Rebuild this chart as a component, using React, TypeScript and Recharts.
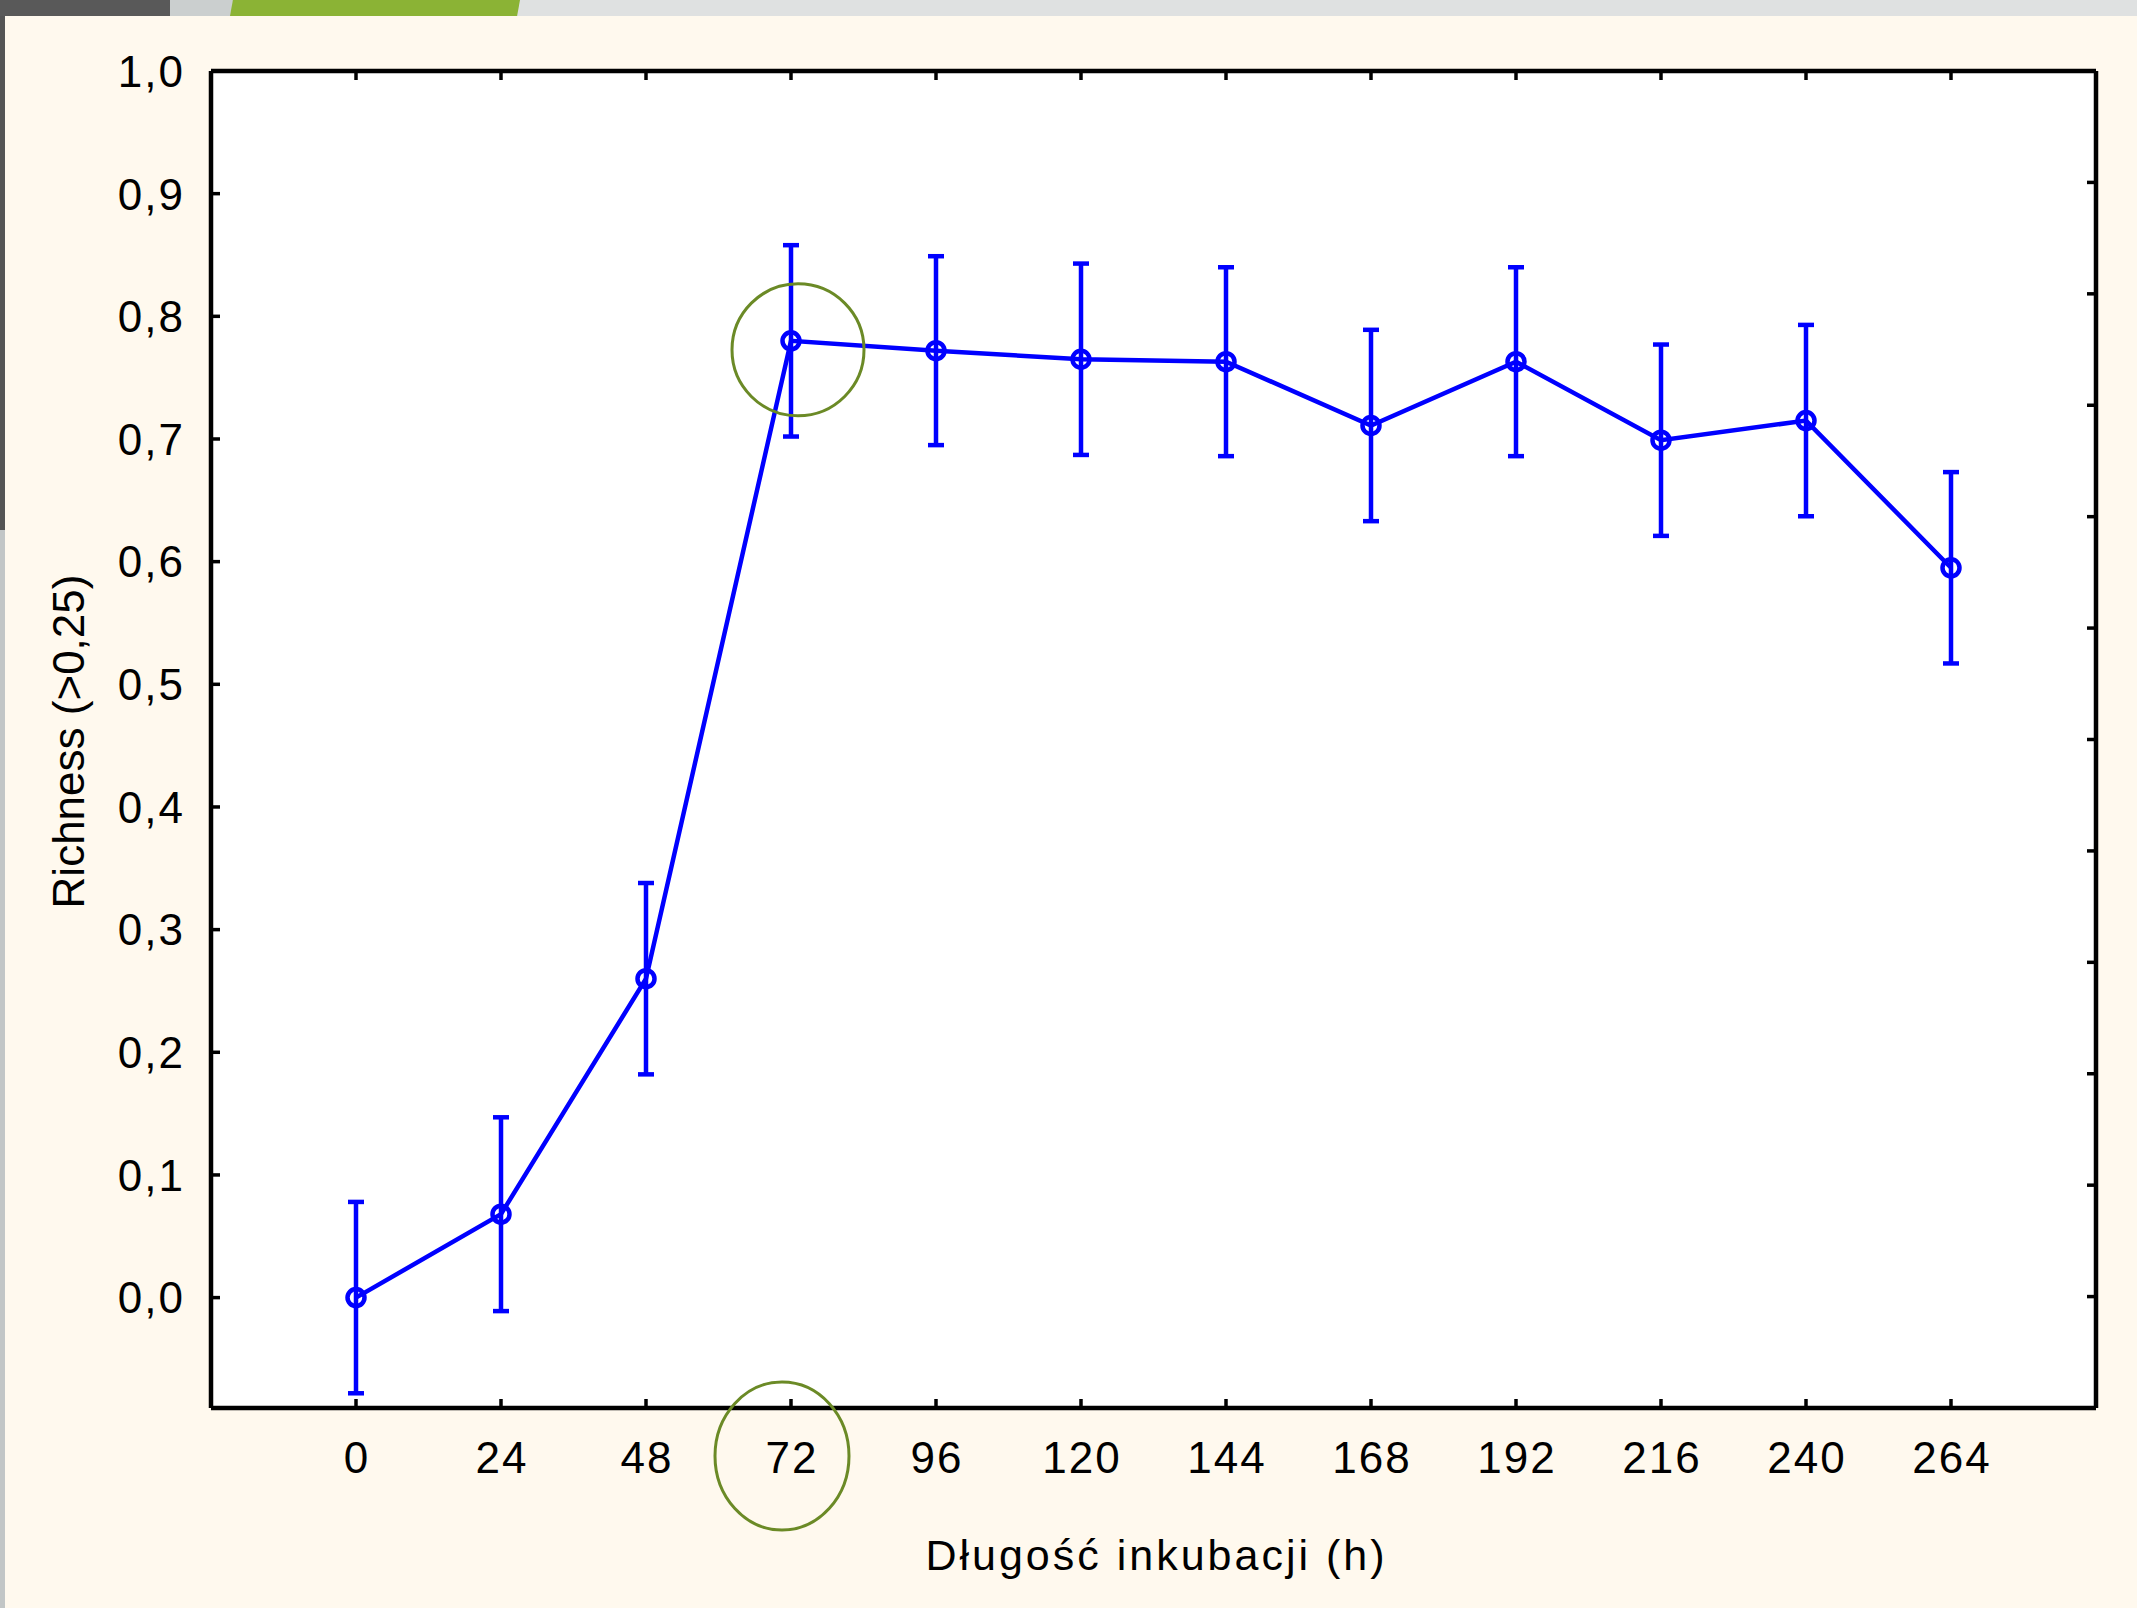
import { LineChart, Line, XAxis, YAxis, ErrorBar, ReferenceDot, ReferenceArea } from 'recharts'

const HOURS = [0, 24, 48, 72, 96, 120, 144, 168, 192, 216, 240, 264]
const RICHNESS = [0.0, 0.068, 0.26, 0.78, 0.772, 0.765, 0.763, 0.711, 0.763, 0.699, 0.715, 0.595]
const ERR = [0.078, 0.079, 0.078, 0.078, 0.077, 0.078, 0.077, 0.078, 0.077, 0.078, 0.078, 0.078]

const X_TICKS = [0, 24, 48, 72, 96, 120, 144, 168, 192, 216, 240, 264]
const Y_TICKS = [0, 0.1, 0.2, 0.3, 0.4, 0.5, 0.6, 0.7, 0.8, 0.9, 1.0]
const RIGHT_TICKS = [1, 2, 3, 4, 5, 6, 7, 8, 9, 10, 11]
const X_DOMAIN: [number, number] = [-24, 288]
const Y_DOMAIN: [number, number] = [-0.09, 1.0]
const HIGHLIGHT_HOUR = 72

const data = HOURS.map((h, i) => ({ h, r: RICHNESS[i], err: ERR[i] }))

const BLUE = '#0000FF'
const GREEN = '#6B8A26'
const FONT = '"Liberation Sans", Arial, sans-serif'

const fmtY = (v: number) => v.toFixed(1).replace('.', ',')

function BottomTick({ x, y, payload }: any) {
  const v = payload.value
  return (
    <g>
      <line x1={x} y1={y} x2={x} y2={y - 9} stroke="#000" strokeWidth={3.5} />
      <text x={x + 1} y={y + 65} textAnchor="middle" fontSize={44} letterSpacing={2} fill="#000" fontFamily={FONT}>
        {v}
      </text>
      {v === HIGHLIGHT_HOUR && (
        <ellipse cx={x - 9} cy={y + 48} rx={67} ry={74} fill="none" stroke={GREEN} strokeWidth={3} />
      )}
    </g>
  )
}

function TopTick({ x, y }: any) {
  return <line x1={x} y1={y} x2={x} y2={y + 9} stroke="#000" strokeWidth={3.5} />
}

function LeftTick({ x, y, payload }: any) {
  return (
    <g>
      <line x1={x} y1={y} x2={x + 9} y2={y} stroke="#000" strokeWidth={3.5} />
      <text x={x - 26} y={y} dy="0.36em" textAnchor="end" fontSize={44} letterSpacing={2} fill="#000" fontFamily={FONT}>
        {fmtY(payload.value)}
      </text>
    </g>
  )
}

function RightTick({ x, y }: any) {
  return <line x1={x} y1={y} x2={x - 9} y2={y} stroke="#000" strokeWidth={3.5} />
}

function HighlightRing({ cx, cy }: any) {
  return <circle cx={cx + 7} cy={cy + 9} r={66} fill="none" stroke={GREEN} strokeWidth={3} />
}

function YLabel({ viewBox }: any) {
  const cx = viewBox.x + 7
  const cy = viewBox.y + viewBox.height / 2 + 2
  return (
    <text
      x={cx}
      y={cy}
      dy="0.36em"
      textAnchor="middle"
      fontSize={44}
      fill="#000"
      fontFamily={FONT}
      transform={`rotate(-90, ${cx}, ${cy})`}
    >
      Richness (&gt;0,25)
    </text>
  )
}

function XLabel({ viewBox }: any) {
  return (
    <text
      x={viewBox.x + viewBox.width / 2 + 3}
      y={viewBox.y + 162}
      textAnchor="middle"
      fontSize={43}
      letterSpacing={3}
      fill="#000"
      fontFamily={FONT}
    >
      Długość inkubacji (h)
    </text>
  )
}

export default function App() {
  return (
    <div style={{ position: 'absolute', left: 0, top: 0, width: 2137, height: 1608, background: '#FFF9EE', overflow: 'hidden' }}>
      {/* slide header strip */}
      <div style={{ position: 'absolute', left: 0, top: 0, width: 2137, height: 16, background: '#DFE1E1' }} />
      <div style={{ position: 'absolute', left: 0, top: 0, width: 174, height: 16, background: '#595959', clipPath: 'polygon(0 0, 100% 0, 98% 100%, 0 100%)' }} />
      <div style={{ position: 'absolute', left: 170, top: 0, width: 64, height: 16, background: '#CBCFCF' }} />
      <div style={{ position: 'absolute', left: 230, top: 0, width: 290, height: 16, background: '#8BB335', clipPath: 'polygon(1% 0, 100% 0, 99% 100%, 0 100%)' }} />
      <div style={{ position: 'absolute', left: 0, top: 16, width: 5, height: 514, background: '#555555' }} />
      <div style={{ position: 'absolute', left: 0, top: 530, width: 5, height: 1078, background: '#C2C6C6' }} />

      <div style={{ position: 'absolute', left: 0, top: 0 }}>
        <LineChart width={2137} height={1608} data={data} margin={{ top: 70, right: 40, bottom: 70, left: 61 }}>
          <XAxis
            dataKey="h"
            type="number"
            domain={X_DOMAIN}
            ticks={X_TICKS}
            interval={0}
            allowDataOverflow
            height={130}
            tickSize={0}
            tickMargin={0}
            tickLine={false}
            axisLine={{ stroke: '#000', strokeWidth: 4.5 }}
            tick={BottomTick}
            label={{ content: XLabel }}
          />
          <XAxis
            xAxisId="top"
            orientation="top"
            dataKey="h"
            type="number"
            domain={X_DOMAIN}
            ticks={X_TICKS}
            interval={0}
            allowDataOverflow
            height={1}
            tickSize={0}
            tickMargin={0}
            tickLine={false}
            axisLine={{ stroke: '#000', strokeWidth: 4.5 }}
            tick={TopTick}
          />
          <YAxis
            type="number"
            domain={Y_DOMAIN}
            ticks={Y_TICKS}
            interval={0}
            allowDataOverflow
            width={150}
            tickSize={0}
            tickMargin={0}
            tickLine={false}
            axisLine={{ stroke: '#000', strokeWidth: 4.5 }}
            tick={LeftTick}
            label={{ content: YLabel }}
          />
          <YAxis
            yAxisId="right"
            orientation="right"
            type="number"
            domain={[0, 12]}
            ticks={RIGHT_TICKS}
            interval={0}
            allowDataOverflow
            width={1}
            tickSize={0}
            tickMargin={0}
            tickLine={false}
            axisLine={{ stroke: '#000', strokeWidth: 4.5 }}
            tick={RightTick}
          />
          <ReferenceArea
            x1={X_DOMAIN[0]}
            x2={X_DOMAIN[1]}
            y1={Y_DOMAIN[0]}
            y2={Y_DOMAIN[1]}
            fill="#FFFFFF"
            fillOpacity={1}
            stroke="none"
            ifOverflow="hidden"
          />
          <ReferenceDot
            x={HIGHLIGHT_HOUR}
            y={RICHNESS[HOURS.indexOf(HIGHLIGHT_HOUR)]}
            shape={HighlightRing}
            ifOverflow="visible"
          />
          <Line
            type="linear"
            dataKey="r"
            stroke={BLUE}
            strokeWidth={4.5}
            dot={{ r: 8.5, stroke: BLUE, strokeWidth: 4.5, fill: 'none' }}
            activeDot={false}
            isAnimationActive={false}
          >
            <ErrorBar dataKey="err" direction="y" width={8} strokeWidth={4.5} stroke={BLUE} isAnimationActive={false} />
          </Line>
        </LineChart>
      </div>
    </div>
  )
}
